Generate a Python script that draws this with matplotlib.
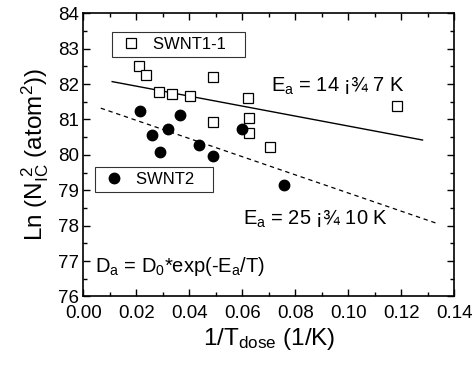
import numpy as np
import matplotlib
matplotlib.use("Agg")
import matplotlib.pyplot as plt
from matplotlib.lines import Line2D
from matplotlib.ticker import MultipleLocator, FormatStrFormatter

plt.rcParams["font.family"] = ["Liberation Sans", "DejaVu Sans"]
plt.rcParams["mathtext.fontset"] = "custom"
plt.rcParams["mathtext.rm"] = "Liberation Sans"
plt.rcParams["mathtext.it"] = "Liberation Sans"

# SWNT1-1 (open squares)
x_swnt1 = [0.0209, 0.0238, 0.0284, 0.0333, 0.0403, 0.0488, 0.0488, 0.0621, 0.0625, 0.0626, 0.0703, 0.1184]
y_swnt1 = [82.50, 82.25, 81.78, 81.72, 81.65, 82.20, 80.93, 81.61, 81.04, 80.62, 80.22, 81.38]

# SWNT2 (filled circles)
x_swnt2 = [0.0214, 0.0260, 0.0288, 0.0319, 0.0365, 0.0438, 0.0490, 0.0598, 0.0756]
y_swnt2 = [81.23, 80.56, 80.07, 80.74, 81.12, 80.28, 79.96, 80.74, 79.14]

# fit lines (end points)
fit1_x = [0.0109, 0.128]
fit1_y = [82.07, 80.42]
fit2_x = [0.0066, 0.134]
fit2_y = [81.32, 78.05]

fig = plt.figure(figsize=(4.74, 3.65), dpi=100)
ax = fig.add_axes([0.1757, 0.1877, 0.7828, 0.7759])

ax.plot(x_swnt1, y_swnt1, "s", mfc="white", mec="black", ms=6.5, mew=0.9, zorder=3)
ax.plot(x_swnt2, y_swnt2, "o", color="black", ms=7.5, zorder=3)
ax.plot(fit1_x, fit1_y, "-", color="black", lw=1.0)
ax.plot(fit2_x, fit2_y, "--", color="black", lw=0.9, dashes=(3.5, 3))

ax.set_xlim(0.0, 0.14)
ax.set_ylim(76, 84)
ax.xaxis.set_major_locator(MultipleLocator(0.02))
ax.xaxis.set_minor_locator(MultipleLocator(0.01))
ax.yaxis.set_major_locator(MultipleLocator(1))
ax.yaxis.set_minor_locator(MultipleLocator(0.5))
ax.xaxis.set_major_formatter(FormatStrFormatter("%.2f"))
ax.tick_params(which="both", direction="in", top=True, right=True, labelsize=13.5, width=1.0)
ax.tick_params(which="major", length=5)
ax.tick_params(which="minor", length=3)
ax.tick_params(axis="x", pad=6)
ax.tick_params(axis="y", pad=3)
for s in ax.spines.values():
    s.set_linewidth(1.2)

ax.set_xlabel(r"1/T$_{\mathrm{dose}}$ (1/K)", fontsize=17.5, labelpad=3)
ax.set_ylabel(r"Ln (N$_{\mathrm{IC}}^{\ 2}$ (atom$^{2}$))", fontsize=17.5, labelpad=5)

ax.text(0.0707, 81.79, r"E$_{\mathrm{a}}$ = 14 ¡¾ 7 K", fontsize=14.5, va="baseline")
ax.text(0.0604, 78.02, r"E$_{\mathrm{a}}$ = 25 ¡¾ 10 K", fontsize=14.5, va="baseline")
ax.text(0.0044, 76.70, r"D$_{\mathrm{a}}$ = D$_{0}$*exp(-E$_{\mathrm{a}}$/T)", fontsize=14.5, va="baseline")

h1 = Line2D([], [], ls="none", marker="s", mfc="white", mec="black", ms=6.5, mew=0.9)
h2 = Line2D([], [], ls="none", marker="o", color="black", ms=7.5)
leg_kw = dict(loc="upper left", frameon=True, fancybox=False, edgecolor="black", fontsize=12,
              borderpad=0.3, handlelength=1.7, handletextpad=0.45, borderaxespad=0)
leg1 = ax.legend([h1], ["SWNT1-1   "], bbox_to_anchor=(0.078, 0.933), **leg_kw)
leg1.get_frame().set_linewidth(0.8)
ax.add_artist(leg1)
leg2 = ax.legend([h2], ["SWNT2   "], bbox_to_anchor=(0.0315, 0.458), **leg_kw)
leg2.get_frame().set_linewidth(0.8)

fig.savefig("out.png", dpi=100)
